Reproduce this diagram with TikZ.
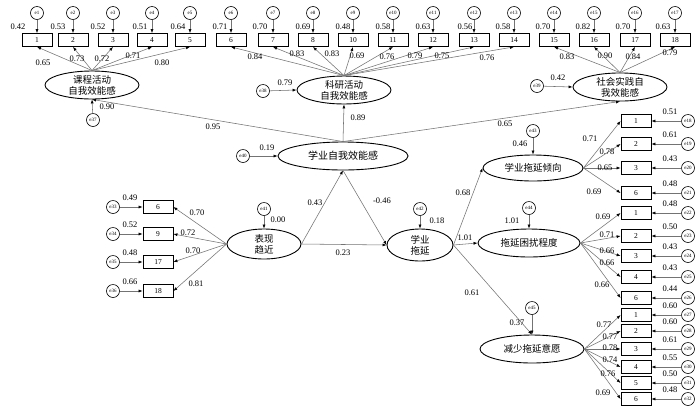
\documentclass[tikz,border=0pt]{standalone}
\usepackage{fontspec}
\setmainfont{Liberation Serif}
\newfontfamily\cjk{Noto Sans CJK SC}
\usetikzlibrary{shapes.geometric,arrows.meta}
\begin{document}
\begin{tikzpicture}[x=1pt,y=-1pt,
 ind/.style={draw,line width=0.8pt,minimum width=30pt,minimum height=13pt,inner sep=0pt,font=\fontsize{7.5}{8}\selectfont},
 err/.style={draw,circle,line width=0.6pt,minimum size=13pt,inner sep=0pt,font=\fontsize{5}{5}\selectfont},
 lat/.style={draw,ellipse,line width=0.9pt,inner sep=0pt,align=center,font=\cjk\fontsize{9.5}{11}\selectfont},
 lab/.style={inner sep=0pt,font=\fontsize{8.5}{8.5}\selectfont},
 con/.style={draw=black!55,line width=0.55pt,-{Latex[length=4pt,width=3pt,color=black]}},
]
\fill[white] (0,0) rectangle (700,408);
\useasboundingbox (0,0) rectangle (700,408);

% latent variables
\node[lat,minimum width=94pt,minimum height=28pt] (L1) at (92,85) {课程活动\\自我效能感};
\node[lat,minimum width=94pt,minimum height=26pt] (L2) at (344,90) {科研活动\\自我效能感};
\node[lat,minimum width=94pt,minimum height=26pt] (L3) at (620,87) {社会实践自\\我效能感};
\node[lat,minimum width=130pt,minimum height=28pt,font=\cjk\fontsize{10}{11}\selectfont] (M) at (343,156) {学业自我效能感};
\node[lat,minimum width=74pt,minimum height=30pt] (P) at (264,244) {表现\\趋近};
\node[lat,minimum width=66pt,minimum height=32pt] (D) at (420,245) {学业\\拖延};
\node[lat,minimum width=100pt,minimum height=26pt] (T) at (533,168) {学业拖延倾向};
\node[lat,minimum width=102pt,minimum height=28pt] (K) at (529,243) {拖延困扰程度};
\node[lat,minimum width=104pt,minimum height=28pt] (W) at (532,349) {减少拖延意愿};

% top indicators
\foreach \i/\x/\t/\v/\lx in {1/37/1/0.42/18,2/73/2/0.53/58,3/113/3/0.52/98,4/152/4/0.51/140,5/190/5/0.64/178,6/231/6/0.71/220,7/273/7/0.70/260,8/313/8/0.69/303,9/353/10/0.48/343,10/393/11/0.58/383,11/433/12/0.63/423,12/474/13/0.56/465,13/514/14/0.58/503,14/554/15/0.70/543,15/594/16/0.82/583,16/635/17/0.70/623,17/675/18/0.63/663}{
 \node[ind] (tb\i) at (\x,40) {\t};
 \node[err] (e\i) at (\x,13) {e\i};
 \draw[con] (e\i) -- (tb\i);
 \node[lab] at (\lx,27) {\v};
}
\foreach \i in {1,...,5} \draw[con] (L1.north) -- (tb\i.south);
\foreach \i in {6,...,13} \draw[con] (L2.north) -- (tb\i.south);
\foreach \i in {14,...,17} \draw[con] (L3.north) -- (tb\i.south);

\foreach \x/\y/\v in {43/63/0.65,77/59/0.73,102/59/0.72,133/56/0.71,162/63/0.80,
 255/57/0.84,297/54/0.83,332/54/0.83,357/56/0.69,387/57/0.76,415/56/0.79,442/56/0.75,487/58/0.76,
 567/57/0.83,605/56/0.90,633/57/0.84,670/53/0.79}
 \node[lab] at (\x,\y) {\v};

% disturbances of first-order factors
\node[err] (e37) at (93,120) {e37};
\draw[con] (e37) -- (L1.south);
\node[lab] at (107,107) {0.90};
\node[err] (e38) at (263,91) {e38};
\draw[con] (e38) -- (L2.west);
\node[lab] at (285,83) {0.79};
\node[err] (e39) at (537,86) {e39};
\draw[con] (e39) -- (L3.west);
\node[lab] at (558,78) {0.42};
\node[err] (e40) at (243,156) {e40};
\draw[con] (e40) -- (M.west);
\node[lab] at (267,148) {0.19};

% second-order loadings
\draw[con] (M.north) -- (L1.south);
\draw[con] (M.north) -- (L2.south);
\draw[con] (M.north) -- (L3.south);
\node[lab] at (213,127) {0.95};
\node[lab] at (358,118) {0.89};
\node[lab] at (505,124) {0.65};

% left indicators of P
\foreach \j/\y/\t/\e/\v in {1/207/6/33/0.49,2/234/9/34/0.52,3/262/17/35/0.48,4/291/18/36/0.66}{
 \node[ind] (lb\j) at (158,\y) {\t};
 \node[err] (e\e) at (113,\y) {e\e};
 \draw[con] (e\e) -- (lb\j);
 \node[lab] at (130,\y-9) {\v};
 \draw[con] (P.west) -- (lb\j.east);
}
\foreach \x/\y/\v in {197/213/0.70,188/233/0.72,193/251/0.70,196/284/0.81}
 \node[lab] at (\x,\y) {\v};

\node[err] (e41) at (264,209) {e41};
\draw[con] (e41) -- (P.north);
\node[lab] at (278,220) {0.00};

% structural paths
\draw[con] (P.east) -- (M.south);
\draw[con] (P.east) -- (D.west);
\draw[con] (M.south) -- (D.west);
\node[lab] at (315,203) {0.43};
\node[lab] at (343,253) {0.23};
\node[lab] at (382,201) {-0.46};

\node[err] (e42) at (420,209) {e42};
\draw[con] (e42) -- (D.north);
\node[lab] at (437,221) {0.18};

\draw[con] (D.east) -- (T.west);
\draw[con] (D.east) -- (K.west);
\draw[con] (D.east) -- (W.north);
\node[lab] at (463,193) {0.68};
\node[lab] at (465,238) {1.01};
\node[lab] at (472,293) {0.61};

\node[err] (e43) at (533,131) {e43};
\draw[con] (e43) -- (T.north);
\node[lab] at (520,144) {0.46};
\node[err] (e44) at (529,208) {e44};
\draw[con] (e44) -- (K.north);
\node[lab] at (512,221) {1.01};
\node[err] (e45) at (532,308) {e45};
\draw[con] (e45) -- (W.north);
\node[lab] at (517,323) {0.37};

% right indicators
\foreach \j/\y/\t/\e/\v in {1/121/1/18/0.51,2/144/2/19/0.61,3/168/3/20/0.43,4/193/6/21/0.48}{
 \node[ind] (ra\j) at (636,\y) {\t};
 \node[err] (e\e) at (688,\y) {e\e};
 \draw[con] (e\e) -- (ra\j);
 \node[lab] at (670,\y-9) {\v};
 \draw[con] (T.east) -- (ra\j.west);
}
\foreach \j/\y/\t/\e/\v in {1/213/1/22/0.48,2/236/2/23/0.50,3/256/3/24/0.43,4/277/4/25/0.43,5/298/6/26/0.44}{
 \node[ind] (rb\j) at (636,\y) {\t};
 \node[err] (e\e) at (688,\y) {e\e};
 \draw[con] (e\e) -- (rb\j);
 \node[lab] at (670,\y-9) {\v};
 \draw[con] (K.east) -- (rb\j.west);
}
\foreach \j/\y/\t/\e/\v in {1/315/1/27/0.60,2/331/2/28/0.60,3/349/3/29/0.61,4/367/4/30/0.55,5/383/5/31/0.50,6/399/6/32/0.48}{
 \node[ind] (rc\j) at (636,\y) {\t};
 \node[err] (e\e) at (688,\y) {e\e};
 \draw[con] (e\e) -- (rc\j);
 \node[lab] at (670,\y-9) {\v};
 \draw[con] (W.east) -- (rc\j.west);
}
\foreach \x/\y/\v in {590/139/0.71,607/152/0.78,605/168/0.65,594/192/0.69,
 603/217/0.69,607/235/0.71,607/251/0.66,607/263/0.66,602/285/0.66,
 604/325/0.77,610/337/0.77,610/348/0.78,610/360/0.74,608/374/0.76,603/393/0.69}
 \node[lab] at (\x,\y) {\v};
\end{tikzpicture}
\end{document}
